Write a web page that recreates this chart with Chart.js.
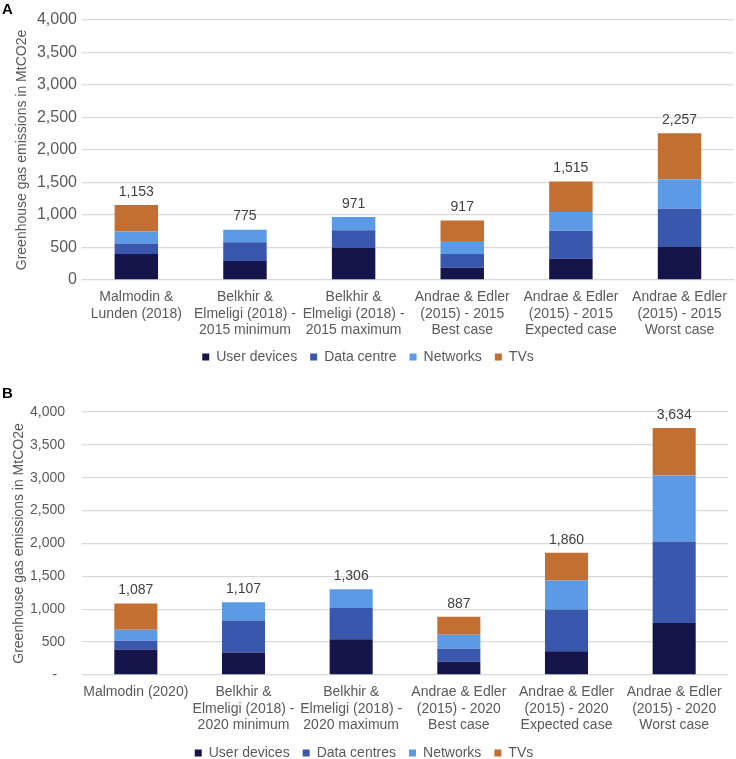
<!DOCTYPE html>
<html>
<head>
<meta charset="utf-8">
<script src="https://cdn.jsdelivr.net/npm/chart.js@4.4.1/dist/chart.umd.min.js"></script>
<style>
  html, body { margin: 0; background: #fff; overflow: hidden; font-family: "Liberation Sans", Arial, sans-serif; }
  .panel { position: absolute; left: 0; width: 736px; }
  .tag { position: absolute; left: 2px; font: bold 15px "Liberation Sans", Arial, sans-serif; color: #000; }
</style>
</head>
<body>
<div class="panel" style="top:0;height:374px;"><canvas id="chartA" width="736" height="374"></canvas></div>
<div class="panel" style="top:374px;height:396px;"><canvas id="chartB" width="736" height="396"></canvas></div>
<div class="tag" style="top:0px;">A</div>
<div class="tag" style="top:384px;">B</div>
<script>
// panel A - 2015
var labelsA = [
    ['Malmodin &', 'Lunden (2018)'],
    ['Belkhir &', 'Elmeligi (2018) -', '2015 minimum'],
    ['Belkhir &', 'Elmeligi (2018) -', '2015 maximum'],
    ['Andrae & Edler', '(2015) - 2015', 'Best case'],
    ['Andrae & Edler', '(2015) - 2015', 'Expected case'],
    ['Andrae & Edler', '(2015) - 2015', 'Worst case']
];
var userA = [400, 292, 492, 190, 328, 508];
var dcA = [160, 287, 272, 210, 431, 589];
var netA = [185, 196, 207, 200, 287, 452];
var tvA = [408, 0, 0, 317, 469, 708];
var totalsA = [1153, 775, 971, 917, 1515, 2257];

// panel B - 2020
var labelsB = [
    ['Malmodin (2020)'],
    ['Belkhir &', 'Elmeligi (2018) -', '2020 minimum'],
    ['Belkhir &', 'Elmeligi (2018) -', '2020 maximum'],
    ['Andrae & Edler', '(2015) - 2020', 'Best case'],
    ['Andrae & Edler', '(2015) - 2020', 'Expected case'],
    ['Andrae & Edler', '(2015) - 2020', 'Worst case']
];
var userB = [386, 344, 542, 203, 360, 792];
var dcB = [136, 483, 478, 197, 635, 1238];
var netB = [168, 280, 286, 214, 441, 1005];
var tvB = [397, 0, 0, 273, 424, 721];
var totalsB = [1087, 1107, 1306, 887, 1860, 3634];

var yTicks = [0, 500, 1000, 1500, 2000, 2500, 3000, 3500, 4000];

var colors = ['#15144b', '#3a57ae', '#5b9be6', '#c46f32'];
var fontFamily = '"Liberation Sans", Arial, sans-serif';

// draws the total above each stack
var totalsPlugin = {
    id: 'totals',
    afterDatasetsDraw: function(chart, args, opts) {
        var ctx = chart.ctx;
        var meta = chart.getDatasetMeta(0);
        ctx.save();
        ctx.font = '14px ' + fontFamily;
        ctx.fillStyle = '#404040';
        ctx.textAlign = 'center';
        ctx.textBaseline = 'bottom';
        opts.totals.forEach(function(t, i) {
            var sum = 0;
            chart.data.datasets.forEach(function(ds) { sum += ds.data[i]; });
            var y = chart.scales.y.getPixelForValue(sum);
            ctx.fillText(t.toLocaleString('en-US'), meta.data[i].x, y - 6);
        });
        ctx.restore();
    }
};

function makeChart(id, labels, series, names, totals, opt) {
    var ctx = document.getElementById(id).getContext('2d');
    return new Chart(ctx, {
        type: 'bar',
        data: {
            labels: labels,
            datasets: series.map(function(s, i) {
                return {
                    label: names[i],
                    data: s,
                    backgroundColor: colors[i],
                    borderWidth: 0,
                    categoryPercentage: 1,
                    barPercentage: 0.4
                };
            })
        },
        options: {
            responsive: false,
            animation: false,
            layout: { padding: opt.padding },
            plugins: {
                legend: {
                    position: 'bottom',
                    labels: {
                        boxWidth: 7,
                        boxHeight: 7,
                        padding: 13,
                        color: '#595959',
                        font: { family: fontFamily, size: 14 }
                    }
                },
                tooltip: { enabled: false },
                totals: { totals: totals }
            },
            scales: {
                x: {
                    stacked: true,
                    afterFit: function(scale) { scale.height = opt.xHeight; },
                    grid: { display: false, drawTicks: false },
                    border: { display: false },
                    ticks: {
                        autoSkip: false,
                        maxRotation: 0,
                        padding: 9,
                        color: '#595959',
                        font: { family: fontFamily, size: 14, lineHeight: 1.18 }
                    }
                },
                y: {
                    stacked: true,
                    min: 0,
                    max: 4000,
                    afterBuildTicks: function(scale) {
                        scale.ticks = yTicks.map(function(v) { return { value: v }; });
                    },
                    afterFit: function(scale) { scale.width = 82; },
                    grid: { color: '#d9d9d9', lineWidth: 1.3, drawTicks: false },
                    border: { display: false },
                    title: {
                        display: true,
                        text: 'Greenhouse gas emissions in MtCO2e',
                        color: '#595959',
                        font: { family: fontFamily, size: 14 },
                        padding: { top: opt.titlePad, bottom: 0 }
                    },
                    ticks: {
                        padding: opt.tickPad,
                        color: '#595959',
                        font: { family: fontFamily, size: opt.tickSize },
                        callback: opt.tickFmt
                    }
                }
            }
        },
        plugins: [totalsPlugin]
    });
}

makeChart('chartA', labelsA, [userA, dcA, netA, tvA],
    ['User devices', 'Data centre', 'Networks', 'TVs'], totalsA, {
        padding: { top: 20, left: 0, right: 0, bottom: 0 },
        xHeight: 57,
        titlePad: 14, tickPad: 5, tickSize: 16,
        tickFmt: function(v) { return v.toLocaleString('en-US'); }
    });

makeChart('chartB', labelsB, [userB, dcB, netB, tvB],
    ['User devices', 'Data centres', 'Networks', 'TVs'], totalsB, {
        padding: { top: 38, left: 0, right: 8, bottom: 0 },
        xHeight: 58,
        titlePad: 11, tickPad: 17, tickSize: 14,
        tickFmt: function(v) { return v === 0 ? '-  ' : v.toLocaleString('en-US'); }
    });
</script>
</body>
</html>
